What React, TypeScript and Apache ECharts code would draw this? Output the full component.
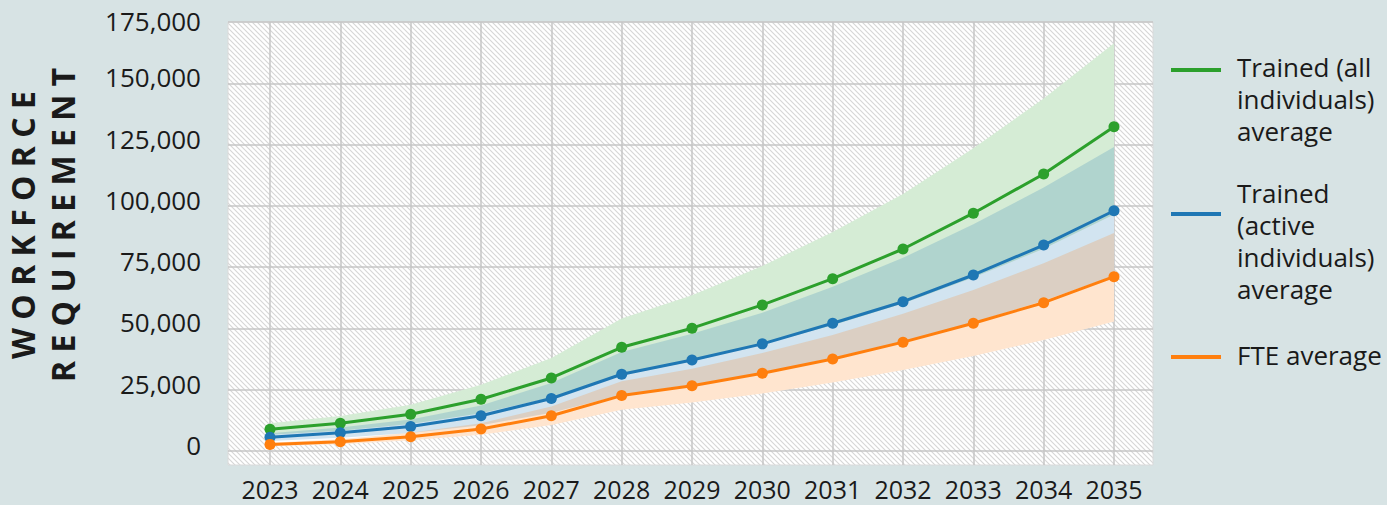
import React, { useEffect, useRef } from "react";
import * as echarts from "echarts";

// ---- Data ----
const years = ["2023", "2024", "2025", "2026", "2027", "2028", "2029", "2030", "2031", "2032", "2033", "2034", "2035"];

const trainedAllAvg = [8900, 11300, 15000, 21100, 29800, 42300, 50100, 59600, 70300, 82400, 97000, 113000, 132300];
const trainedAllHigh = [11300, 14300, 18900, 27000, 37900, 54000, 63500, 75500, 89300, 104800, 123500, 143800, 166300];
const trainedAllLow = [6600, 8300, 11000, 15400, 21800, 30900, 36600, 43500, 51300, 60200, 70800, 82500, 96500];

const trainedActiveAvg = [5600, 7450, 10000, 14400, 21400, 31300, 37100, 43700, 52100, 60900, 71800, 84000, 98000];
const trainedActiveHigh = [7200, 9600, 12900, 18600, 27700, 40400, 47800, 56400, 67000, 78800, 92500, 107500, 124000];
const trainedActiveLow = [4100, 5400, 7300, 10500, 15600, 22800, 27100, 31900, 38000, 44500, 52400, 61300, 71500];

const fteAvg = [2700, 3800, 5850, 8950, 14400, 22600, 26650, 31700, 37500, 44400, 52100, 60500, 71100];
const fteHigh = [3400, 4800, 7400, 11300, 18200, 28500, 33600, 40000, 47300, 56000, 65700, 76600, 88900];
const fteLow = [2000, 2800, 4400, 6600, 10600, 16800, 19800, 23500, 27900, 33000, 38800, 45300, 52800];

const yMin = 0;
const yMax = 175000;
const yStep = 25000;

const seriesNames = ["Trained (all\nindividuals)\naverage", "Trained\n(active\nindividuals)\naverage", "FTE average"];
const axisTitle = "W O R K F O R C E\nR E Q U I R E M E N T";

const GREEN = "#2ca02c";
const BLUE = "#1f77b4";
const ORANGE = "#ff7f0e";
const GRID = "#c6c6c6";
const TEXT = "#1a1a1a";
const FONT = "'Open Sans', 'Noto Sans', sans-serif";

const hatchSvg =
  "<svg xmlns='http://www.w3.org/2000/svg' width='5' height='5'>" +
  "<rect width='5' height='5' fill='#ffffff'/>" +
  "<path d='M0,0 L5,5 M-1,4 L1,6 M4,-1 L6,1' stroke='#d6d6d6' stroke-width='1.1'/></svg>";
const hatchUrl = "data:image/svg+xml;charset=utf-8," + encodeURIComponent(hatchSvg);

function diff(a: number[], b: number[]) {
  return a.map((v, i) => v - b[i]);
}

function band(stack: string, low: number[], high: number[], color: string, opacity: number) {
  return [
    {
      type: "line",
      stack,
      data: low,
      symbol: "none",
      silent: true,
      lineStyle: { width: 0, opacity: 0 },
      z: 1,
    },
    {
      type: "line",
      stack,
      data: diff(high, low),
      symbol: "none",
      silent: true,
      lineStyle: { width: 0, opacity: 0 },
      areaStyle: { color, opacity },
      z: 1,
    },
  ];
}

function avgLine(name: string, data: number[], color: string) {
  return {
    type: "line",
    name,
    data,
    symbol: "circle",
    symbolSize: 11,
    lineStyle: { color, width: 3 },
    itemStyle: { color },
    z: 5,
  };
}

export default function App() {
  const ref = useRef<HTMLDivElement>(null);

  useEffect(() => {
    if (!ref.current) return;
    const chart = echarts.init(ref.current, undefined, { renderer: "svg" });

    const legendItems = [
      { color: GREEN, lineY: 70, textTop: 51, lh: 32, text: seriesNames[0] },
      { color: BLUE, lineY: 214, textTop: 177.4, lh: 32, text: seriesNames[1] },
      { color: ORANGE, lineY: 357, textTop: 339, lh: 32, text: seriesNames[2] },
    ];

    const graphic: any[] = [
      {
        type: "rect",
        z: -3,
        silent: true,
        shape: { x: 228, y: 22, width: 925, height: 443 },
        style: { fill: "#ffffff" },
      },
      {
        type: "rect",
        z: -2,
        silent: true,
        shape: { x: 228, y: 22, width: 925, height: 443 },
        style: {
          fill: { image: hatchUrl, repeat: "repeat", imageWidth: 5, imageHeight: 5 },
          stroke: "#dadada",
          lineWidth: 1,
        },
      },
      {
        type: "text",
        x: 42,
        y: 225,
        rotation: Math.PI / 2,
        silent: true,
        style: {
          text: axisTitle,
          fill: TEXT,
          fontSize: 32,
          fontWeight: "bold",
          fontFamily: FONT,
          lineHeight: 40,
          align: "center",
          verticalAlign: "middle",
          textAlign: "center",
          textVerticalAlign: "middle",
        },
      },
    ];

    legendItems.forEach((it) => {
      graphic.push({
        type: "line",
        silent: true,
        shape: { x1: 1171, y1: it.lineY, x2: 1221, y2: it.lineY },
        style: { stroke: it.color, lineWidth: 4 },
      });
      graphic.push({
        type: "text",
        x: 1237,
        y: it.textTop,
        silent: true,
        style: {
          text: it.text,
          fill: TEXT,
          fontSize: 26,
          fontFamily: FONT,
          lineHeight: it.lh,
          align: "left",
          verticalAlign: "top",
          textAlign: "left",
          textVerticalAlign: "top",
        },
      });
    });

    const option: any = {
      animation: false,
      backgroundColor: "transparent",
      grid: [
        { left: 270, right: 273, top: 22, bottom: 54 },
        { left: 228, right: 234, top: 22, bottom: 54 },
      ],
      xAxis: [
        {
          type: "category",
          gridIndex: 0,
          data: years,
          boundaryGap: false,
          axisLine: { show: false },
          axisTick: { show: true, length: 14, lineStyle: { color: GRID, width: 1.5 } },
          splitLine: { show: true, lineStyle: { color: GRID, width: 1.5 } },
          axisLabel: {
            margin: 28,
            fontSize: 25,
            lineHeight: 20,
            color: TEXT,
            fontFamily: FONT,
            interval: 0,
          },
        },
        {
          type: "value",
          gridIndex: 1,
          min: 0,
          max: 1,
          show: false,
        },
      ],
      yAxis: [
        {
          type: "value",
          gridIndex: 0,
          min: yMin,
          max: yMax,
          interval: yStep,
          show: false,
          splitLine: { show: false },
        },
        {
          type: "value",
          gridIndex: 1,
          min: yMin,
          max: yMax,
          interval: yStep,
          axisLine: { show: false },
          axisTick: { show: false },
          splitLine: { show: true, lineStyle: { color: GRID, width: 1.5 } },
          axisLabel: {
            margin: 27,
            formatter: (v: number) => {
              const s = v.toLocaleString("en-US");
              return v === yMax ? `{t|${s}}` : `{n|${s}}`;
            },
            rich: {
              t: { fontSize: 26, color: TEXT, fontFamily: FONT, padding: [0, 0, 2, 0] },
              n: { fontSize: 26, color: TEXT, fontFamily: FONT, padding: [0, 0, 12, 0] },
            },
          },
        },
      ],
      graphic,
      series: [
        ...band("white", fteLow, trainedAllHigh, "#ffffff", 1),
        ...band("green", trainedAllLow, trainedAllHigh, GREEN, 0.2),
        ...band("blue", trainedActiveLow, trainedActiveHigh, BLUE, 0.2),
        ...band("orange", fteLow, fteHigh, ORANGE, 0.2),
        avgLine(seriesNames[0], trainedAllAvg, GREEN),
        avgLine(seriesNames[1], trainedActiveAvg, BLUE),
        avgLine(seriesNames[2], fteAvg, ORANGE),
      ],
    };

    chart.setOption(option);
    return () => chart.dispose();
  }, []);

  return (
    <div
      ref={ref}
      style={{ position: "fixed", left: 0, top: 0, width: 1387, height: 505, background: "#d7e3e4" }}
    />
  );
}
